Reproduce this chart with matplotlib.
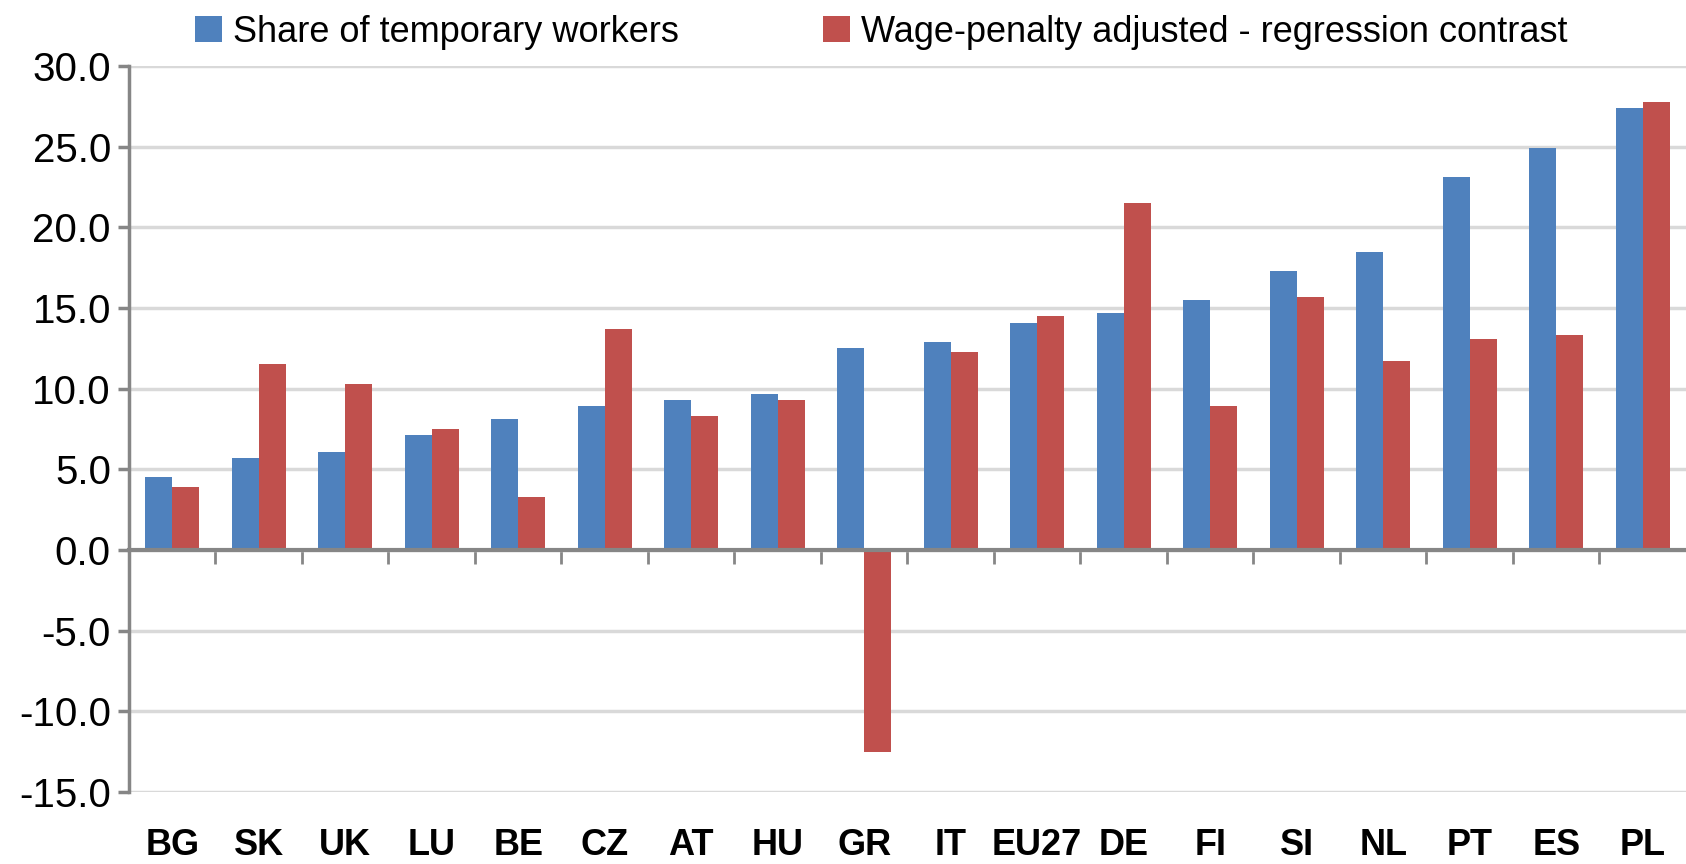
import numpy as np
import matplotlib.pyplot as plt
from matplotlib.transforms import blended_transform_factory

plt.rcParams['font.family'] = ['Liberation Sans', 'DejaVu Sans']

countries = ['BG', 'SK', 'UK', 'LU', 'BE', 'CZ', 'AT', 'HU', 'GR', 'IT',
             'EU27', 'DE', 'FI', 'SI', 'NL', 'PT', 'ES', 'PL']
share_temp = [4.5, 5.7, 6.1, 7.1, 8.1, 8.9, 9.3, 9.7, 12.5, 12.9,
              14.1, 14.7, 15.5, 17.3, 18.5, 23.1, 24.9, 27.4]
wage_penalty = [3.9, 11.5, 10.3, 7.5, 3.3, 13.7, 8.3, 9.3, -12.5, 12.3,
                14.5, 21.5, 8.9, 15.7, 11.7, 13.1, 13.3, 27.8]
yticks = [-15, -10, -5, 0, 5, 10, 15, 20, 25, 30]

BLUE = '#4F81BD'
RED = '#C0504D'
GRID = '#D9D9D9'
AXIS = '#868686'


def main():
    fig = plt.figure(figsize=(16.86, 8.64), dpi=100)
    ax = fig.add_axes([0.0765, 0.0833, 0.9235, 0.8403])

    x = np.arange(len(countries))
    w = 0.31
    ax.bar(x - w / 2, share_temp, w, color=BLUE, label='Share of temporary workers', zorder=3)
    ax.bar(x + w / 2, wage_penalty, w, color=RED,
           label='Wage-penalty adjusted - regression contrast', zorder=3)

    ax.set_xlim(-0.5, len(countries) - 0.5)
    ax.set_ylim(-15, 30)
    ax.set_yticks(yticks)
    ax.set_yticklabels(['{:.1f}'.format(v) for v in yticks], fontsize=29)
    ax.yaxis.grid(True, color=GRID, linewidth=2.5, zorder=0)

    for s in ['top', 'right']:
        ax.spines[s].set_visible(False)
    ax.spines['left'].set_color(AXIS)
    ax.spines['left'].set_linewidth(2.5)
    ax.spines['bottom'].set_position(('data', 0))
    ax.spines['bottom'].set_color(AXIS)
    ax.spines['bottom'].set_linewidth(3)
    ax.spines['bottom'].set_zorder(4)

    ax.tick_params(axis='y', colors=AXIS, length=8, width=2.5, labelcolor='black', pad=5)
    ax.set_xticks([])
    ax.set_xticks(np.arange(0.5, len(countries) - 0.5, 1), minor=True)
    ax.tick_params(axis='x', which='minor', direction='out', length=10, width=2, colors=AXIS)

    # country labels sit below the plot, not at the zero line
    trans = blended_transform_factory(ax.transData, ax.transAxes)
    for i, c in enumerate(countries):
        ax.text(i, -0.05, c, transform=trans, ha='center', va='top',
                fontsize=26, fontweight='bold')

    ax.legend(loc='lower center', bbox_to_anchor=(0.483, 1.0), ncol=2, frameon=False,
              fontsize=26, handlelength=0.75, handleheight=0.75, handletextpad=0.3,
              columnspacing=4.0, borderaxespad=0.05)

    fig.savefig('out.png', dpi=100)


if __name__ == '__main__':
    main()
